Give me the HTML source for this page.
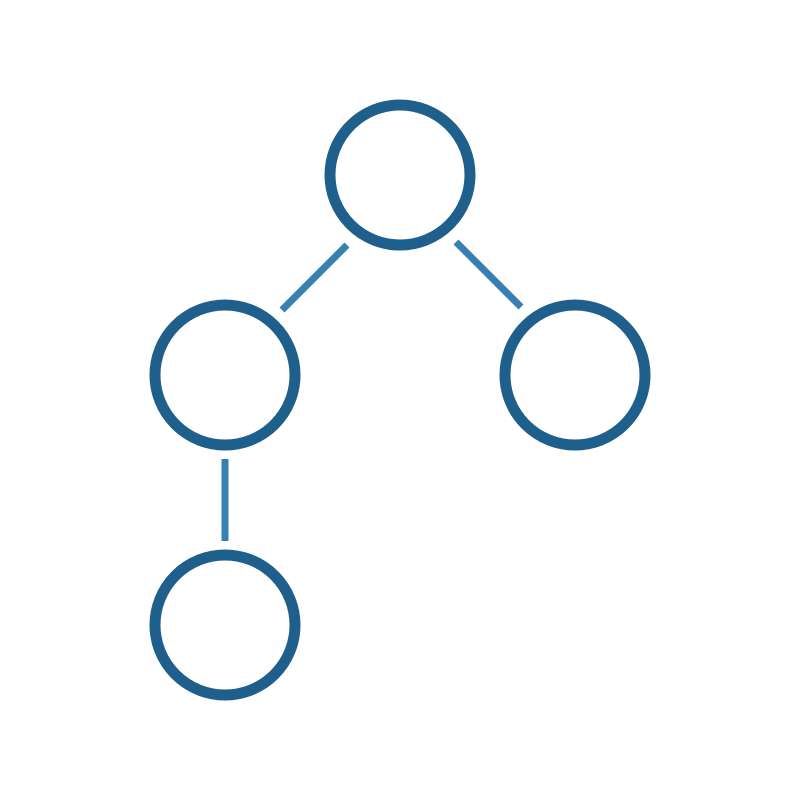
<!DOCTYPE html>
<html><head><style>html,body{margin:0;padding:0;background:#fff;}</style></head>
<body>
<svg width="800" height="800" viewBox="0 0 800 800" xmlns="http://www.w3.org/2000/svg">
<rect width="800" height="800" fill="#fff"/>
<g stroke="#3680b4" stroke-width="7" fill="none">
<line x1="347" y1="245" x2="282" y2="310"/>
<line x1="456" y1="242" x2="521" y2="307"/>
<line x1="225" y1="459" x2="225" y2="541"/>
</g>
<g stroke="#1f5f8b" stroke-width="11" fill="none">
<circle cx="400" cy="175" r="70"/>
<circle cx="225" cy="375" r="70"/>
<circle cx="575" cy="375" r="70"/>
<circle cx="225" cy="625" r="70"/>
</g>
</svg>
</body></html>
